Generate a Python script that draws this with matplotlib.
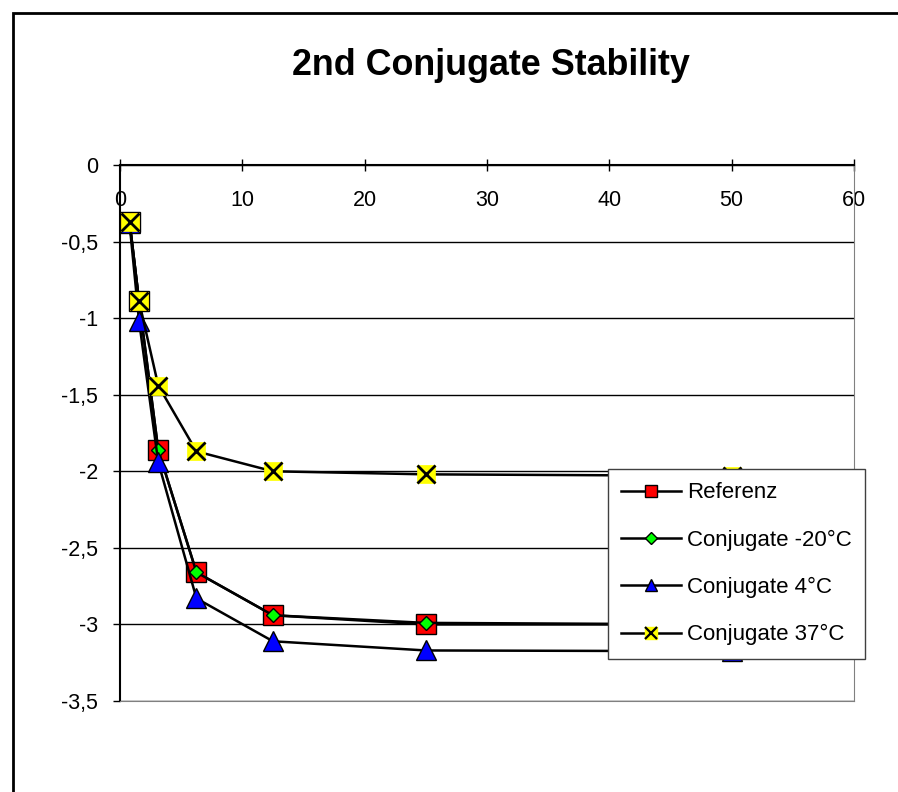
import matplotlib
matplotlib.use("Agg")
import matplotlib.pyplot as plt
from matplotlib.lines import Line2D
from matplotlib.patches import Rectangle
from matplotlib.ticker import FuncFormatter

# verdunnung (x) i vrednosti za svaku seriju
x = [0.78, 1.56, 3.125, 6.25, 12.5, 25, 50]
referenz = [-0.37, -0.89, -1.86, -2.66, -2.94, -3.0, -3.0]
conj_m20 = [-0.37, -0.89, -1.86, -2.66, -2.94, -2.99, -3.0]
conj_4 = [-0.38, -1.02, -1.94, -2.83, -3.11, -3.17, -3.175]
conj_37 = [-0.37, -0.89, -1.44, -1.87, -2.0, -2.02, -2.03]

labels = ["Referenz", "Conjugate -20°C", "Conjugate 4°C", "Conjugate 37°C"]
x_ticks = [0, 10, 20, 30, 40, 50, 60]
y_ticks = [0, -0.5, -1, -1.5, -2, -2.5, -3, -3.5]

plt.rcParams['font.family'] = ['Liberation Sans', 'DejaVu Sans']

W, H = 898, 792
fig = plt.figure(figsize=(W / 100, H / 100), dpi=100)
ax = fig.add_axes([120 / W, 1 - 701 / H, (854 - 120) / W, (701 - 165) / H])

# okvir oko cele slike (izlazi van desno i dole)
fig.add_artist(Rectangle((13 / W, -0.1), 1.2, 1 - 13 / H + 0.1,
                         transform=fig.transFigure, fill=False,
                         lw=2, ec='black'))

lw = 1.8
ax.plot(x, referenz, color='black', lw=lw, marker='s', ms=14,
        mfc='red', mec='black', mew=1)
ax.plot(x, conj_m20, color='black', lw=lw, marker='D', ms=7.5,
        mfc='#00ff00', mec='black', mew=1)
ax.plot(x, conj_4, color='black', lw=lw, marker='^', ms=14,
        mfc='blue', mec='black', mew=1)
ax.plot(x, conj_37, color='black', lw=lw, marker='s', ms=12.5,
        mfc='yellow', mec='yellow', mew=0.5)
ax.plot(x, conj_37, ls='none', marker='x', ms=12.5, color='black', mew=2)

ax.set_xlim(0, 60)
ax.set_ylim(-3.5, 0)
ax.set_xticks(x_ticks)
ax.set_yticks(y_ticks)
ax.yaxis.set_major_formatter(FuncFormatter(lambda v, p: f"{v:g}".replace('.', ',')))

# x osa ide gore, kod y=0
ax.spines['bottom'].set_position(('data', 0))
ax.spines['bottom'].set_linewidth(1.5)
ax.spines['left'].set_linewidth(1.5)
ax.spines['top'].set_position(('data', -3.5))
ax.spines['top'].set_color('#808080')
ax.spines['right'].set_color('#808080')

ax.tick_params(axis='x', direction='inout', length=8, width=1, pad=14,
               labelsize=15.5)
ax.tick_params(axis='y', direction='out', length=5, width=1, pad=11,
               labelsize=15.5)

ax.yaxis.grid(True, color='black', lw=1)
ax.set_axisbelow(True)

fig.text(491 / W, 1 - 75 / H, "2nd Conjugate Stability", ha='center',
         va='baseline', fontsize=25.8, fontweight='bold')

# legenda sa manjim markerima
handles = [
    Line2D([], [], color='black', lw=lw, marker='s', ms=8.5, mfc='red', mec='black', mew=1),
    Line2D([], [], color='black', lw=lw, marker='D', ms=6.5, mfc='#00ff00', mec='black', mew=1),
    Line2D([], [], color='black', lw=lw, marker='^', ms=8.5, mfc='blue', mec='black', mew=1),
    (Line2D([], [], color='black', lw=lw, marker='s', ms=8.5, mfc='yellow', mec='yellow'),
     Line2D([], [], ls='none', marker='x', ms=8.5, color='black', mew=1.6)),
]
leg = fig.legend(handles, labels, loc='upper left',
                 bbox_to_anchor=(608 / W, 1 - 469 / H), borderaxespad=0,
                 fontsize=16, frameon=True, fancybox=False, framealpha=1,
                 edgecolor='#404040', borderpad=0.6, handlelength=2.7,
                 handletextpad=0.25, labelspacing=1.18)
leg.get_frame().set_linewidth(1)

fig.savefig("out.png", dpi=100)
